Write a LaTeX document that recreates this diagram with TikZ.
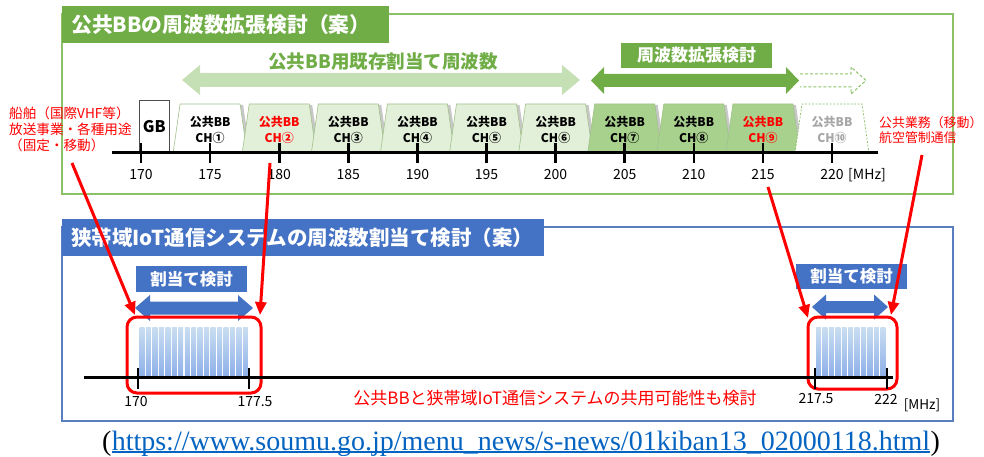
\documentclass[tikz,border=0pt]{standalone}
\usepackage{fontspec}
\setmainfont{Noto Sans CJK JP}
\newfontfamily\seriffont{Liberation Serif}
\usetikzlibrary{arrows.meta}
\definecolor{gdark}{HTML}{70AD47}
\definecolor{gframe}{HTML}{8CC168}
\definecolor{glight}{HTML}{E2F0D9}
\definecolor{gmid}{HTML}{A9D18E}
\definecolor{garrow}{HTML}{C5E0B4}
\definecolor{bdark}{HTML}{4472C4}
\definecolor{bframe}{HTML}{5A7FC0}
\definecolor{bbar}{HTML}{9DC3E6}
\definecolor{linkblue}{HTML}{0563C1}
\definecolor{redc}{HTML}{FF0000}
\begin{document}
\begin{tikzpicture}[x=1pt,y=-1pt,
  redarr/.style={draw=redc, line width=3pt, -{Triangle[length=13pt,width=11pt]}},
  chfont/.style={font=\bfseries\fontsize{12}{14}\selectfont, inner sep=0},
  tickfont/.style={font=\fontsize{14}{16}\selectfont, inner sep=0},
  btickfont/.style={font=\fontsize{14}{16}\selectfont, inner sep=0},
  lnote/.style={text=redc, inner sep=0, anchor=west, font=\fontsize{13.6}{16}\selectfont},
  rnote/.style={text=redc, inner sep=0, anchor=west, font=\fontsize{12.9}{15}\selectfont},
  bluebox/.style={fill=bdark, text=white, font=\bfseries\fontsize{16.5}{18}\selectfont, inner sep=0},
  redbox/.style={draw=redc, line width=3pt, rounded corners=10pt},
  axis/.style={line width=3pt, black},
  tick/.style={line width=2.6pt, black}]
\useasboundingbox (0,0) rectangle (984,457);

% ---------- upper green panel ----------
\draw[gframe, line width=1.6pt] (62,14) rectangle (953,194);
\fill[gdark] (62,6) rectangle (389,43);
\node[anchor=west, text=white, font=\bfseries\fontsize{20.8}{24}\selectfont, inner sep=0] (t1) at (71,25) {公共BBの周波数拡張検討（案）};

% light green arrow
\fill[garrow] (182,80) -- (200,65) -- (200,73) -- (562,73) -- (562,65) -- (580,80)
  -- (562,95) -- (562,87) -- (200,87) -- (200,95) -- cycle;
\node[text=gdark, font=\bfseries\fontsize{18.5}{20}\selectfont, inner sep=0] (kizon) at (383,62) {公共BB用既存割当て周波数};

% dark green arrow
\fill[gdark] (591,80.5) -- (604,67) -- (604,74) -- (786,74) -- (786,67) -- (799,80.5)
  -- (786,94) -- (786,87) -- (604,87) -- (604,94) -- cycle;
\draw[gframe, dashed, dash pattern=on 3pt off 2pt, line width=1pt] (800,74) -- (851,74) -- (851,67) -- (866,80.5)
  -- (851,94) -- (851,87) -- (800,87);
\node[fill=gdark, text=white, font=\bfseries\fontsize{17}{19}\selectfont, minimum width=151pt, minimum height=25pt, inner sep=0] (kakucho) at (696.5,55.5) {周波数拡張検討};

% GB box
\node[draw=gray!60!black, fill=white, line width=0.8pt, minimum width=30pt, minimum height=52pt, inner sep=0, anchor=south west, font=\bfseries\fontsize{16}{18}\selectfont] (gb) at (139,153) {GB};

% channels
\foreach \i/\fc/\tc/\n in {1/white/black/①,2/glight/redc/②,3/glight/black/③,4/glight/black/④,5/glight/black/⑤,6/glight/black/⑥,7/gmid/black/⑦,8/gmid/black/⑧,9/gmid/redc/⑨}{
  \pgfmathsetmacro\cx{141+\i*69.1}
  \fill[black!22] (\cx-35,153) -- (\cx-28,105) -- (\cx+33,105) -- (\cx+40,153) -- cycle;
  \filldraw[fill=\fc, draw=gmid!80!gray, line width=0.6pt] (\cx-37,153) -- (\cx-30,104) -- (\cx+30,104) -- (\cx+37,153) -- cycle;
  \node[chfont, text=\tc] (chA\i) at (\cx,122) {公共BB};
  \node[chfont, text=\tc] (chB\i) at (\cx,137.5) {CH\n};
}
\pgfmathsetmacro\cxx{141+10*69.1}
\filldraw[fill=white, draw=gframe, dashed, dash pattern=on 2pt off 1.5pt, line width=0.7pt] (\cxx-37,153) -- (\cxx-30,104) -- (\cxx+30,104) -- (\cxx+37,153);
\node[chfont, text=gray!70] (chA10) at (\cxx,122) {公共BB};
\node[chfont, text=gray!70] (chB10) at (\cxx,137.5) {CH⑩};

% upper axis
\draw[axis] (112,153) -- (878,153);
\foreach \v [count=\k from 0] in {170,175,...,220}{
  \pgfmathsetmacro\tx{141+\k*69.1}
  \draw[tick] (\tx,143) -- (\tx,163);
  \node[tickfont] (tl\k) at (\tx,175) {\v};
}
\node[tickfont, anchor=west] (mhz1) at (848,175) {[MHz]};

% red notes
\node[lnote] (ln1) at (9,113) {船舶（国際VHF等）};
\node[lnote] (ln2) at (9,129) {放送事業・各種用途};
\node[lnote] (ln3) at (9,145) {（固定・移動）};
\node[rnote] (rn1) at (879,123) {公共業務（移動）};
\node[rnote] (rn2) at (879,138) {航空管制通信};

% ---------- lower blue panel ----------
\draw[bframe, line width=1.6pt] (62,227) rectangle (953,421);
\fill[bdark] (62,219) rectangle (544,256);
\node[anchor=west, text=white, font=\bfseries\fontsize{20.5}{24}\selectfont, inner sep=0] (t2) at (71,238) {狭帯域IoT通信システムの周波数割当て検討（案）};

% bars
\foreach \j in {0,...,16}{
  \pgfmathsetmacro\bx{139.5+\j*6.47}
  \shade[top color=bbar!55, bottom color=bbar!90!blue] (\bx,327) rectangle (\bx+4.9,377);
}
\foreach \j in {0,...,10}{
  \pgfmathsetmacro\bx{816+\j*6.45}
  \shade[top color=bbar!55, bottom color=bbar!90!blue] (\bx,327) rectangle (\bx+4.9,377);
}

% blue boxes and arrows
\node[bluebox, minimum width=111pt, minimum height=26pt] (wa1) at (191.5,279) {割当て検討};
\node[bluebox, minimum width=111pt, minimum height=25pt] (wa2) at (851.5,276.5) {割当て検討};
\fill[bdark] (135,308) -- (150,295) -- (150,301.5) -- (238,301.5) -- (238,295) -- (253,308)
  -- (238,321) -- (238,314.5) -- (150,314.5) -- (150,321) -- cycle;
\fill[bdark] (812,307) -- (826,294.5) -- (826,301) -- (874,301) -- (874,294.5) -- (888,307)
  -- (874,319.5) -- (874,313) -- (826,313) -- (826,319.5) -- cycle;

% red rounded boxes
\draw[redbox] (127,317) rectangle (261,393);
\draw[redbox] (808,317) rectangle (897,389);

% lower axis
\draw[axis] (84,377) -- (893,377);
\foreach \tx in {138,249,815,887}{
  \draw[tick] (\tx,368) -- (\tx,389);
}
\node[btickfont] (bl1) at (136,402) {170};
\node[btickfont] (bl2) at (255,402) {177.5};
\node[btickfont] (bl3) at (816,399) {217.5};
\node[btickfont] (bl4) at (886,399) {222};
\node[btickfont, font=\fontsize{13.5}{15}\selectfont] (mhz2) at (922,405) {[MHz]};

\node[text=redc, font=\fontsize{17}{19}\selectfont, inner sep=0] (kyoyo) at (555,398) {公共BBと狭帯域IoT通信システムの共用可能性も検討};

% red arrows
\coordinate (r1s) at (72,163);   \coordinate (r1e) at (135,315);
\coordinate (r2s) at (270,163);  \coordinate (r2e) at (260,315);
\coordinate (r3s) at (768,187);  \coordinate (r3e) at (808,318);
\coordinate (r4s) at (922,155);  \coordinate (r4e) at (891,315);
\draw[redarr] (r1s) -- (r1e);
\draw[redarr] (r2s) -- (r2e);
\draw[redarr] (r3s) -- (r3e);
\draw[redarr] (r4s) -- (r4e);

% source URL
\node[anchor=base, inner sep=0, text=linkblue, font=\seriffont\fontsize{28}{32}\selectfont] (url) at (521,450) {https://www.soumu.go.jp/menu\_news/s-news/01kiban13\_02000118.html};
\node[anchor=base east, inner sep=0, font=\seriffont\fontsize{28}{32}\selectfont] (lp) at (url.base west) {(};
\node[anchor=base west, inner sep=0, font=\seriffont\fontsize{28}{32}\selectfont] (rp) at (url.base east) {)};
\draw[linkblue, line width=1.3pt] ([yshift=-2pt]url.base west) -- ([yshift=-2pt]url.base east);
\end{tikzpicture}
\end{document}
